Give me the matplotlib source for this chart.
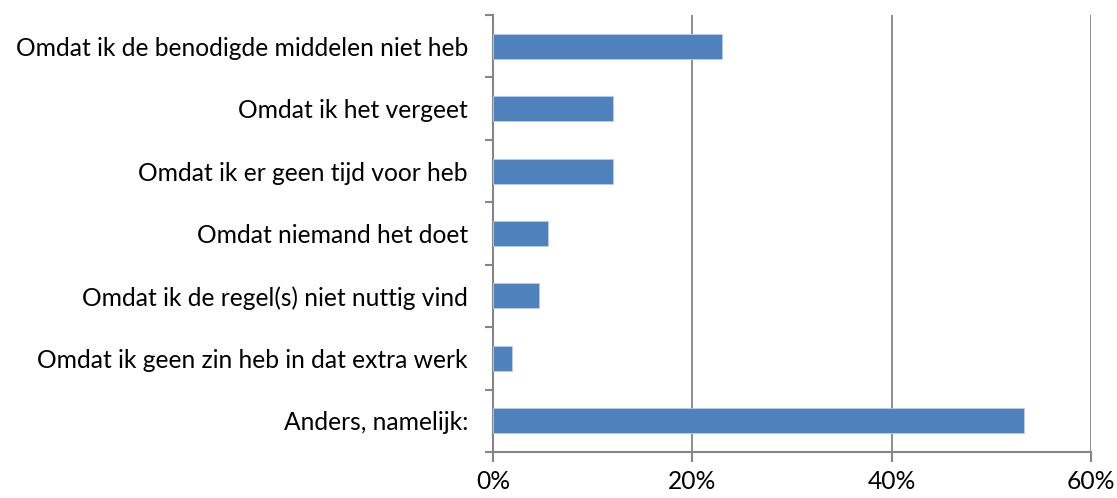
import numpy as np
import matplotlib.pyplot as plt
from matplotlib.ticker import FixedLocator, PercentFormatter

labels = [
    "Omdat ik de benodigde middelen niet heb",
    "Omdat ik het vergeet",
    "Omdat ik er geen tijd voor heb",
    "Omdat niemand het doet",
    "Omdat ik de regel(s) niet nuttig vind",
    "Omdat ik geen zin heb in dat extra werk",
    "Anders, namelijk:",
]
values = [23.0, 12.0, 12.0, 5.55, 4.65, 1.9, 53.3]

plt.rcParams['font.family'] = ['Lato', 'DejaVu Sans']
grey = '#868686'

fig = plt.figure(figsize=(11.17, 4.98), dpi=100)
ax = fig.add_axes([493 / 1117, 1 - 452 / 498, 598 / 1117, 437 / 498])

y = np.arange(len(labels))
ax.barh(y, values, height=0.4, color='#4f81bd', edgecolor='#b9cde5', linewidth=0.6, zorder=3)
ax.set_ylim(len(labels) - 0.5, -0.5)
ax.set_xlim(0, 60)

ax.set_yticks(y)
ax.set_yticklabels(labels, fontsize=17.7)
ax.yaxis.set_minor_locator(FixedLocator(np.arange(-0.5, len(labels), 1)))
ax.tick_params(axis='y', which='major', length=0, pad=18)
ax.tick_params(axis='y', which='minor', length=6, width=1.5, color=grey)

ax.set_xticks([0, 20, 40, 60])
ax.xaxis.set_major_formatter(PercentFormatter(decimals=0))
ax.tick_params(axis='x', length=7, width=1.5, color=grey, labelsize=17.7, pad=6)

ax.grid(axis='x', color=grey, linewidth=1.3, zorder=0)
for side in ['top', 'right']:
    ax.spines[side].set_visible(False)
for side in ['left', 'bottom']:
    ax.spines[side].set_color(grey)
    ax.spines[side].set_linewidth(1.5)

fig.savefig('out.png', dpi=100)
